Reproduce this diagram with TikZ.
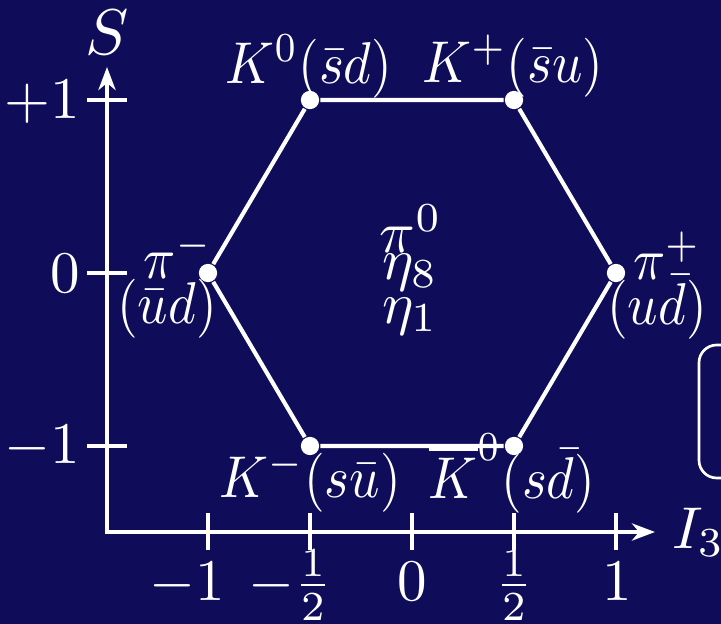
\documentclass[tikz,border=0pt]{standalone}
\usetikzlibrary{arrows.meta}
\definecolor{bgblue}{RGB}{15,13,89}
\newcommand{\nrw}[1]{\scalebox{0.9}[1]{$#1$}}
\begin{document}
\begin{tikzpicture}[x=0.1695pt,y=-0.1695pt,
  axisline/.style={white,line width=0.78pt,{Stealth[length=3.9pt,width=2.9pt,inset=1.2pt]}-{Stealth[length=3.9pt,width=2.9pt,inset=1.2pt]}},
  tickline/.style={white,line width=0.7pt},
  hexedge/.style={white,line width=0.7pt},
  meson/.style={circle,fill=white,inner sep=0pt,minimum size=3.1pt},
  lbl/.style={text=white,inner sep=0pt,anchor=base},
  lbleast/.style={text=white,inner sep=0pt,anchor=base east},
  lblwest/.style={text=white,inner sep=0pt,anchor=base west}]
\fill[bgblue] (0,0) rectangle (721,624);
\useasboundingbox (0,0) rectangle (721,624);

% axes
\coordinate (stop) at (107,67);
\coordinate (corner) at (107,532);
\coordinate (iend) at (655,532);
\draw[axisline] (stop) -- (corner) -- (iend);

% S ticks
\foreach \n/\y in {sp/100, sz/273, sm/446}{
  \coordinate (\n a) at (87,\y);
  \coordinate (\n b) at (127,\y);
  \draw[tickline] (\n a) -- (\n b);
}
% I3 ticks
\foreach \n/\x in {im/208, ih/310, iz/412, iph/514, ip/616}{
  \coordinate (\n a) at (\x,513);
  \coordinate (\n b) at (\x,550);
  \draw[tickline] (\n a) -- (\n b);
}

% axis labels
\node[lbl,font=\fontsize{11pt}{13pt}\selectfont] (slabel) at (107,54) {$S$};
\node[lblwest] (ilabel) at (671,548) {$I_3$};
\node[lbleast] (lsp) at (81,118) {$+1$};
\node[lbleast] (lsz) at (81,292) {$0$};
\node[lbleast] (lsm) at (81,463) {$-1$};
\node[lbl] (lim) at (210,600) {$\llap{$-$}1$};
\node[lbl] (lih) at (313,600) {$\llap{$-$}\frac{1}{2}$};
\node[lbl] (liz) at (412,600) {$0$};
\node[lbl] (liph) at (514,600) {$\frac{1}{2}$};
\node[lbl] (lip) at (617,600) {$1$};

% hexagon
\node[meson] (k0) at (310,100) {};
\node[meson] (kp) at (514,100) {};
\node[meson] (pip) at (616,273) {};
\node[meson] (k0b) at (514,446) {};
\node[meson] (km) at (310,446) {};
\node[meson] (pim) at (208,273) {};
\draw[hexedge] (k0) -- (kp) -- (pip) -- (k0b) -- (km) -- (pim) -- (k0);

% meson labels
\node[lbl] (lk0) at (309,83) {\nrw{K^0(\bar s d)}};
\node[lbl] (lkp) at (513,82) {\nrw{K^+(\bar s u)}};
\node[lbl] (lkm) at (310,497) {\nrw{K^-(s\bar u)}};
\node[lbl] (lk0b) at (512,498) {\nrw{\overline{K}^0(s\bar d)}};
\node[lbl] (lpim) at (178,278) {\nrw{\pi^-}};
\node[lbl] (lpimq) at (167,323) {\nrw{(\bar u d)}};
\node[lbl] (lpip) at (667,279) {\nrw{\pi^+}};
\node[lbl] (lpipq) at (657,324) {\nrw{(u\bar d)}};
\node[lbl] (lpi0) at (411,253) {$\pi^0$};
\node[lbl] (leta8) at (410,279) {$\eta_8$};
\node[lbl] (leta1) at (410,323) {$\eta_1$};

% partial box at right edge
\draw[white,line width=0.45pt,rounded corners=3pt] (699,345) rectangle (790,478);
\end{tikzpicture}
\end{document}
